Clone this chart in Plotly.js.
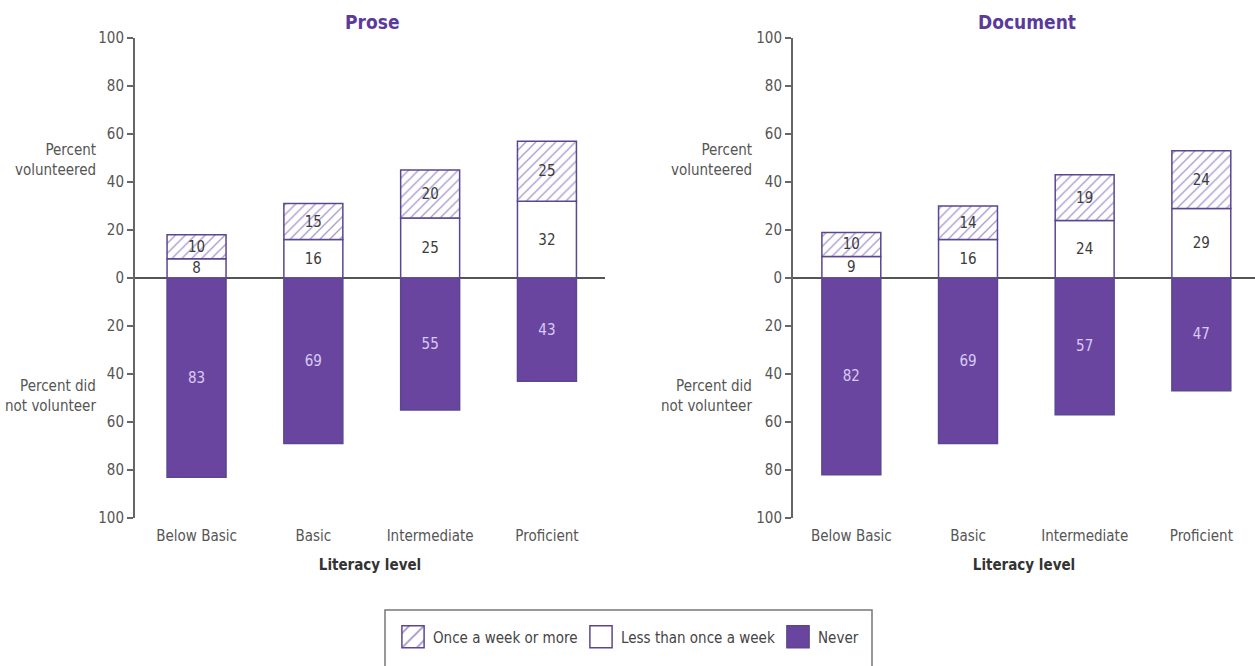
<!DOCTYPE html>
<html>
<head>
<meta charset="utf-8">
<script src="https://cdn.plot.ly/plotly-3.0.1.min.js"></script>
<style>
  html, body { margin: 0; padding: 0; background: #ffffff; }
  #chart { width: 1255px; height: 666px; }
</style>
</head>
<body>
<div id="chart"></div>
<script>
// Literacy levels shown along both horizontal axes
const levels = ['Below Basic', 'Basic', 'Intermediate', 'Proficient'];

// Prose literacy: percent of adults by volunteering frequency
const proseOnceAWeek = [10, 15, 20, 25];
const proseLessThanWeekly = [8, 16, 25, 32];
const proseNever = [83, 69, 55, 43];

// Document literacy: percent of adults by volunteering frequency
const docOnceAWeek = [10, 14, 19, 24];
const docLessThanWeekly = [9, 16, 24, 29];
const docNever = [82, 69, 57, 47];

// Vertical tick values (signed) and the magnitudes printed beside them
const yTickValues = [-100, -80, -60, -40, -20, 0, 20, 40, 60, 80, 100];
const yTickText = yTickValues.map(v => String(Math.abs(v)));

const seriesNames = ['Once a week or more', 'Less than once a week', 'Never'];

const W = 1255, H = 666;
const FONT = 'Liberation Sans Narrow, DejaVu Sans Condensed, Arial Narrow, sans-serif';
const PURPLE = '#6a45a0';
const OUTLINE = '#5a4790';
const HATCH = '#a597cf';
const TEXT_DARK = '#3b3b3b';
const TEXT_LIGHT = '#d9cbf3';

const px = x => x / W;            // horizontal pixel -> paper fraction
const py = y => (H - y) / H;      // vertical pixel -> paper fraction

function panelTraces(xa, ya, once, less, never, showLegend) {
  const common = {
    type: 'bar', x: levels, xaxis: xa, yaxis: ya, width: 0.505,
    textposition: 'inside', insidetextanchor: 'middle', textangle: 0,
    constraintext: 'none', hoverinfo: 'skip', showlegend: showLegend,
    legendgroup: ''
  };
  return [
    Object.assign({}, common, {
      name: seriesNames[1], legendrank: 2, legendwidth: 152,
      y: less, text: less.map(String),
      textfont: { family: FONT, size: 15, color: TEXT_DARK },
      marker: { color: '#ffffff', line: { color: OUTLINE, width: 1.5 } }
    }),
    Object.assign({}, common, {
      name: seriesNames[0], legendrank: 1, legendwidth: 143,
      y: once, text: once.map(String),
      textfont: { family: FONT, size: 15, color: TEXT_DARK },
      marker: {
        color: '#ffffff',
        line: { color: OUTLINE, width: 1.5 },
        pattern: { shape: '/', fgcolor: HATCH, bgcolor: '#ffffff', size: 7, solidity: 0.18 }
      }
    }),
    Object.assign({}, common, {
      name: seriesNames[2], legendrank: 3,
      y: never.map(v => -v), text: never.map(String),
      textfont: { family: FONT, size: 15, color: TEXT_LIGHT },
      marker: { color: PURPLE, line: { color: OUTLINE, width: 1.5 } }
    })
  ];
}

const data = []
  .concat(panelTraces('x', 'y', proseOnceAWeek, proseLessThanWeekly, proseNever, true))
  .concat(panelTraces('x2', 'y2', docOnceAWeek, docLessThanWeekly, docNever, false));

function xAxis(domain, range) {
  return {
    domain: domain, range: range, type: 'category',
    showline: false, showgrid: false, zeroline: false, ticks: '',
    ticklabelstandoff: 7,
    tickfont: { family: FONT, size: 15, color: '#555555' },
    title: { text: 'Literacy level', standoff: 15,
             font: { family: FONT, size: 15, color: '#333333', weight: 'bold' } },
    fixedrange: true
  };
}

function yAxis(anchor) {
  return {
    domain: [py(518), py(38)], range: [-100, 100], anchor: anchor,
    tickmode: 'array', tickvals: yTickValues, ticktext: yTickText,
    showline: true, linecolor: '#666666', linewidth: 2,
    ticks: 'outside', ticklen: 6, tickwidth: 1.5, tickcolor: '#666666',
    showgrid: false,
    zeroline: true, zerolinecolor: '#555555', zerolinewidth: 1.5,
    tickfont: { family: FONT, size: 15, color: '#555555' },
    fixedrange: true
  };
}

function sideLabel(x, y, text) {
  return {
    xref: 'paper', yref: 'paper', x: px(x), y: py(y),
    xanchor: 'right', yanchor: 'middle', align: 'right',
    text: text, showarrow: false,
    font: { family: FONT, size: 15, color: '#555555' }
  };
}

function panelTitle(x, text) {
  return {
    xref: 'paper', yref: 'paper', x: px(x), y: py(22),
    xanchor: 'center', yanchor: 'middle', text: '<b>' + text + '</b>',
    showarrow: false,
    font: { family: FONT, size: 19, color: '#5b3a9a' }
  };
}

const layout = {
  width: W, height: H, autosize: false,
  margin: { l: 0, r: 0, t: 0, b: 0, pad: 0 },
  paper_bgcolor: '#ffffff', plot_bgcolor: 'rgba(0,0,0,0)',
  barmode: 'relative', bargap: 0.5,
  xaxis: xAxis([px(135), px(605)], [-0.527, 3.497]),
  yaxis: yAxis('x'),
  xaxis2: Object.assign(xAxis([px(793), 1], [-0.5, 3.46]), { anchor: 'y2' }),
  yaxis2: yAxis('x2'),
  uniformtext: { mode: 'show', minsize: 15 },
  showlegend: true,
  legend: {
    orientation: 'h', x: px(393), xanchor: 'left', y: py(637), yanchor: 'middle',
    traceorder: 'normal', bgcolor: 'rgba(0,0,0,0)', borderwidth: 0,
    font: { family: FONT, size: 15, color: '#444444' }
  },
  annotations: [
    panelTitle(372, 'Prose'),
    panelTitle(1027, 'Document'),
    sideLabel(98, 160, 'Percent<br>volunteered'),
    sideLabel(98, 396, 'Percent did<br>not volunteer'),
    sideLabel(754, 160, 'Percent<br>volunteered'),
    sideLabel(754, 396, 'Percent did<br>not volunteer')
  ],
  shapes: [{
    type: 'rect', xref: 'paper', yref: 'paper',
    x0: px(385), x1: px(872), y0: py(672), y1: py(610),
    line: { color: '#777777', width: 1.5 }, fillcolor: 'rgba(0,0,0,0)'
  }]
};

// Legend swatches are drawn larger than Plotly's default 12px squares
function enlargeSwatches() {
  document.querySelectorAll('#chart .legend .legendpoints path').forEach(p => {
    if (!p.hasAttribute('data-base')) {
      p.setAttribute('data-base', p.getAttribute('transform') || '');
    }
    p.setAttribute('transform', p.getAttribute('data-base') + ' scale(1.85)');
    p.style.vectorEffect = 'non-scaling-stroke';
  });
}

const gd = document.getElementById('chart');
Plotly.newPlot(gd, data, layout, { displayModeBar: false, staticPlot: true })
  .then(() => {
    enlargeSwatches();
    gd.on('plotly_afterplot', enlargeSwatches);
  });
</script>
</body>
</html>
